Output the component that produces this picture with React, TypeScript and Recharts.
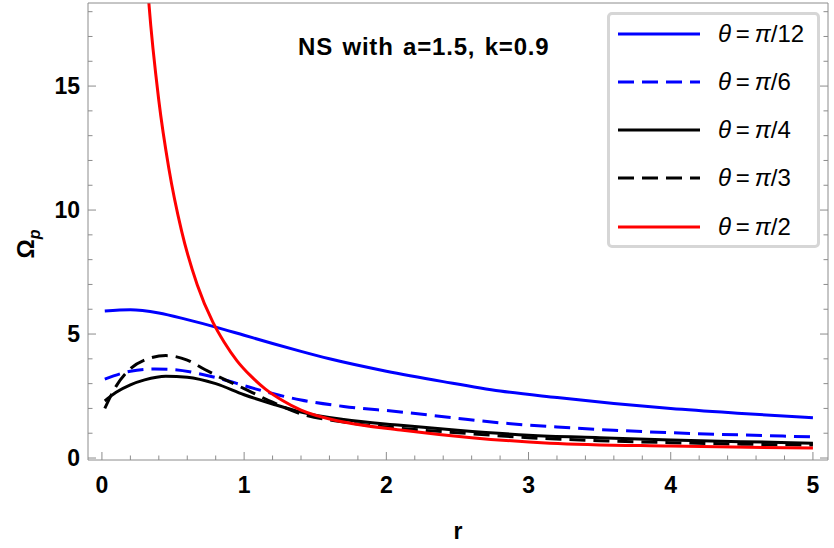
import { LineChart, Line, XAxis, YAxis, Legend } from 'recharts'

// Ω_p vs r, NS with a=1.5, k=0.9
const rPi12 = [0.02, 0.2, 0.4, 0.6, 0.8, 1.0, 1.2, 1.4, 1.6, 2.0, 2.4, 2.8, 3.2, 3.6, 4.0, 4.5, 5.0]
const omegaPi12 = [5.93, 5.98, 5.85, 5.58, 5.28, 4.95, 4.62, 4.3, 4.0, 3.5, 3.08, 2.7, 2.44, 2.2, 2.0, 1.8, 1.62]

const rPi6 = [0.02, 0.2, 0.37, 0.5, 0.7, 0.84, 1.0, 1.2, 1.4, 1.7, 2.1, 2.5, 2.8, 3.2, 3.6, 4.0, 4.5, 5.0]
const omegaPi6 = [3.18, 3.5, 3.59, 3.57, 3.38, 3.19, 2.92, 2.6, 2.34, 2.08, 1.86, 1.6, 1.42, 1.25, 1.12, 1.02, 0.93, 0.85]

const rPi4 = [0.02, 0.1, 0.2, 0.3, 0.45, 0.6, 0.8, 1.0, 1.2, 1.4, 1.7, 2.1, 2.5, 3.0, 3.5, 4.0, 4.5, 5.0]
const omegaPi4 = [2.3, 2.65, 2.95, 3.15, 3.3, 3.26, 3.0, 2.55, 2.18, 1.85, 1.55, 1.32, 1.12, 0.92, 0.82, 0.73, 0.66, 0.6]

const rPi3 = [0.02, 0.1, 0.2, 0.3, 0.45, 0.6, 0.72, 0.85, 1.0, 1.2, 1.4, 1.7, 2.1, 2.5, 3.0, 3.5, 4.0, 4.5, 5.0]
const omegaPi3 = [2.0, 2.9, 3.6, 3.95, 4.13, 3.95, 3.58, 3.2, 2.8, 2.25, 1.78, 1.45, 1.2, 1.02, 0.82, 0.7, 0.62, 0.56, 0.52]

const rPi2 = [0.3, 0.33, 0.4, 0.47, 0.56, 0.67, 0.78, 0.86, 0.95, 1.05, 1.15, 1.27, 1.4, 1.7, 2.1, 2.6, 3.15, 4.0, 5.0]
const omegaPi2 = [20.8, 18.35, 14.42, 11.7, 9.16, 6.99, 5.48, 4.67, 3.92, 3.29, 2.78, 2.32, 1.93, 1.45, 1.13, 0.82, 0.6, 0.48, 0.4]

const xTicks = [0, 0.2, 0.4, 0.6, 0.8, 1, 1.2, 1.4, 1.6, 1.8, 2, 2.2, 2.4, 2.6, 2.8, 3, 3.2, 3.4, 3.6, 3.8, 4, 4.2, 4.4, 4.6, 4.8, 5]
const yTicks = [0, 1, 2, 3, 4, 5, 6, 7, 8, 9, 10, 11, 12, 13, 14, 15, 16, 17, 18]
const xMajor = [0, 1, 2, 3, 4, 5]
const yMajor = [0, 5, 10, 15]

const X_DOMAIN: [number, number] = [-0.098, 5.106]
const Y_DOMAIN: [number, number] = [-0.08, 18.35]

const FRAME = '#8c8c8c'
const FONT = '"Liberation Sans", Arial, sans-serif'

const toPoints = (rs: number[], ys: number[]) => rs.map((r, i) => ({ r, omega: ys[i] }))

const series = [
  { key: 'pi12', den: '12', color: '#0000ff', dash: undefined, data: toPoints(rPi12, omegaPi12) },
  { key: 'pi6', den: '6', color: '#0000ff', dash: '16 8', data: toPoints(rPi6, omegaPi6) },
  { key: 'pi4', den: '4', color: '#000000', dash: undefined, data: toPoints(rPi4, omegaPi4) },
  { key: 'pi3', den: '3', color: '#000000', dash: '16 8', data: toPoints(rPi3, omegaPi3) },
  { key: 'pi2', den: '2', color: '#ff0000', dash: undefined, data: toPoints(rPi2, omegaPi2) },
]

const tickLabel = { fontSize: 23, fontWeight: 'bold' as const, fill: '#000', fontFamily: FONT }

function BottomTick({ x, y, payload }: any) {
  const major = xMajor.includes(payload.value)
  return (
    <g>
      <line x1={x} x2={x} y1={y} y2={y - (major ? 8 : 4.5)} stroke={FRAME} />
      {major && <text x={x} y={y + 33} textAnchor="middle" {...tickLabel}>{payload.value}</text>}
    </g>
  )
}

function TopTick({ x, y, payload }: any) {
  const major = xMajor.includes(payload.value)
  return <line x1={x} x2={x} y1={y} y2={y + (major ? 8 : 4.5)} stroke={FRAME} />
}

function LeftTick({ x, y, payload }: any) {
  const major = yMajor.includes(payload.value)
  return (
    <g>
      <line x1={x} x2={x + (major ? 8 : 4.5)} y1={y} y2={y} stroke={FRAME} />
      {major && <text x={x - 8} y={y + 8} textAnchor="end" {...tickLabel}>{payload.value}</text>}
    </g>
  )
}

function RightTick({ x, y, payload }: any) {
  const major = yMajor.includes(payload.value)
  return <line x1={x} x2={x - (major ? 8 : 4.5)} y1={y} y2={y} stroke={FRAME} />
}

function LegendBox() {
  const rows = [19, 67, 115, 163, 212]
  return (
    <div style={{
      boxSizing: 'border-box', width: 213, height: 236,
      border: '3px solid #d6d6d6', borderRadius: 5, background: '#fff',
    }}>
      <svg width={207} height={230}>
        {series.map((s, i) => (
          <g key={s.key}>
            <line x1={8} x2={90} y1={rows[i]} y2={rows[i]} stroke={s.color} strokeWidth={3} strokeDasharray={s.dash} />
            <text x={108} y={rows[i] + 8} fontSize={24} fontFamily={FONT} fill="#000">
              <tspan fontStyle="italic">θ</tspan>{'\u2009=\u2009'}<tspan fontStyle="italic">π</tspan>/{s.den}
            </text>
          </g>
        ))}
      </svg>
    </div>
  )
}

export default function App() {
  return (
    <div style={{ position: 'absolute', left: 0, top: 0, width: 834, height: 548, background: '#fff', fontFamily: FONT }}>
      <LineChart width={834} height={548} margin={{ top: 0, right: 0, bottom: 28, left: 28 }}>
        <XAxis
          xAxisId="bottom" type="number" dataKey="r" domain={X_DOMAIN} allowDataOverflow
          ticks={xTicks} interval={0} tickSize={0} tickMargin={0} height={60}
          stroke={FRAME} tick={<BottomTick />}
          label={{
            content: ({ viewBox }: any) => (
              <text x={viewBox.x + viewBox.width / 2} y={viewBox.y + 79} textAnchor="middle" {...tickLabel}>r</text>
            ),
          }}
        />
        <XAxis
          xAxisId="top" orientation="top" type="number" domain={X_DOMAIN} allowDataOverflow
          ticks={xTicks} interval={0} tickSize={0} tickMargin={0} height={3}
          stroke={FRAME} tick={<TopTick />}
        />
        <YAxis
          yAxisId="left" type="number" domain={Y_DOMAIN} allowDataOverflow
          ticks={yTicks} interval={0} tickSize={0} tickMargin={0} width={60}
          stroke={FRAME} tick={<LeftTick />}
          label={{
            content: () => (
              <text x={34} y={244} transform="rotate(-90, 34, 244)" textAnchor="middle" fontFamily={FONT} fill="#000">
                <tspan fontSize={24} fontWeight="bold">Ω</tspan>
                <tspan fontSize={16} fontStyle="italic" fontWeight="bold" dy={6}>p</tspan>
              </text>
            ),
          }}
        />
        <YAxis
          yAxisId="right" orientation="right" type="number" domain={Y_DOMAIN} allowDataOverflow
          ticks={yTicks} interval={0} tickSize={0} tickMargin={0} width={6}
          stroke={FRAME} tick={<RightTick />}
        />
        {series.map((s) => (
          <Line
            key={s.key}
            xAxisId="bottom"
            yAxisId="left"
            data={s.data}
            dataKey="omega"
            type="monotone"
            stroke={s.color}
            strokeWidth={3}
            strokeDasharray={s.dash}
            dot={false}
            activeDot={false}
            isAnimationActive={false}
          />
        ))}
        <Legend
          layout="vertical" align="center" verticalAlign="middle"
          wrapperStyle={{ left: 607, top: 12, width: 213, height: 236 }}
          content={() => <LegendBox />}
        />
      </LineChart>
      <div style={{
        position: 'absolute', left: 298, top: 34, fontSize: 24, fontWeight: 'bold',
        letterSpacing: 0.8, wordSpacing: 2, lineHeight: '26px', color: '#000', whiteSpace: 'nowrap',
      }}>
        NS with a=1.5, k=0.9
      </div>
    </div>
  )
}
